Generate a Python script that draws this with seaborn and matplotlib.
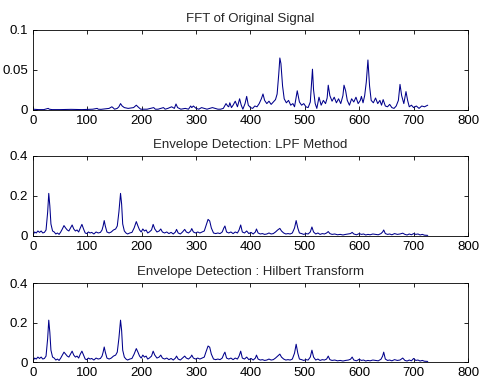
import numpy as np
import pandas as pd
import seaborn as sns
import matplotlib
matplotlib.use("Agg")
import matplotlib.pyplot as plt

# FFT of original signal
fft_x = [0, 10, 20, 28, 30, 35, 50, 70, 90, 110, 118, 120, 125, 140, 145, 147, 150, 155, 158, 161,
         164, 168, 175, 185, 190, 193, 198, 210, 222, 225, 230, 240, 243, 248, 255, 260, 263, 266, 272, 280,
         286, 290, 292, 295, 300, 305, 310, 320, 330, 335, 340, 345, 350, 355, 358, 360, 362, 365, 368, 372,
         376, 380, 383, 386, 390, 393, 396, 400, 404, 408, 412, 416, 420, 423, 426, 430, 434, 438, 442, 446,
         449, 452, 454, 456, 459, 462, 466, 470, 474, 478, 481, 483, 486, 490, 494, 498, 502, 506, 510, 512,
         514, 516, 519, 522, 526, 530, 534, 538, 541, 543, 546, 550, 554, 558, 562, 566, 570, 572, 575, 578,
         582, 586, 590, 594, 598, 602, 604, 607, 610, 613, 616, 619, 622, 626, 630, 634, 638, 641, 644, 648,
         652, 656, 660, 664, 668, 672, 675, 678, 682, 686, 689, 692, 696, 700, 705, 710, 715, 720, 726]
fft_y = [0.001, 0.0005, 0.0005, 0.002, 0.001, 0.0005, 0.0005, 0.0008, 0.0005, 0.001, 0.002, 0.001, 0.0008,
         0.002, 0.004, 0.003, 0.001, 0.002, 0.004, 0.008, 0.005, 0.003, 0.002, 0.003, 0.006, 0.004, 0.001,
         0.001, 0.003, 0.001, 0.001, 0.003, 0.001, 0.002, 0.004, 0.002, 0.0075, 0.003, 0.001, 0.002, 0.001,
         0.005, 0.003, 0.005, 0.002, 0.001, 0.003, 0.001, 0.003, 0.002, 0.001, 0.001, 0.002, 0.008, 0.005,
         0.004, 0.009, 0.003, 0.006, 0.011, 0.004, 0.014, 0.006, 0.001, 0.008, 0.017, 0.006, 0.003, 0.002,
         0.005, 0.004, 0.008, 0.014, 0.02, 0.012, 0.008, 0.011, 0.007, 0.010, 0.013, 0.02, 0.045, 0.065,
         0.058, 0.03, 0.014, 0.009, 0.012, 0.006, 0.008, 0.004, 0.012, 0.024, 0.01, 0.006, 0.008, 0.004,
         0.003, 0.01, 0.03, 0.051, 0.025, 0.008, 0.002, 0.016, 0.006, 0.012, 0.008, 0.015, 0.031, 0.018,
         0.011, 0.016, 0.009, 0.014, 0.008, 0.018, 0.031, 0.024, 0.012, 0.006, 0.014, 0.010, 0.016, 0.008,
         0.012, 0.017, 0.009, 0.018, 0.035, 0.0625, 0.03, 0.012, 0.009, 0.015, 0.008, 0.012, 0.006, 0.013,
         0.005, 0.004, 0.007, 0.003, 0.002, 0.005, 0.012, 0.032, 0.018, 0.008, 0.023, 0.012, 0.004, 0.006,
         0.003, 0.005, 0.002, 0.005, 0.004, 0.006]

# envelope, LPF method
lpf_x = [0, 3, 6, 9, 12, 15, 18, 21, 24, 27, 29, 31, 33, 36, 39, 42, 45, 48, 51, 54,
         57, 60, 63, 66, 69, 72, 75, 78, 81, 84, 87, 90, 93, 96, 99, 102, 105, 108, 112, 116,
         120, 124, 127, 129, 131, 133, 136, 140, 144, 148, 152, 155, 158, 161, 163, 165, 168, 171, 174, 178,
         182, 186, 190, 193, 196, 199, 202, 205, 208, 211, 214, 218, 221, 224, 228, 232, 235, 238, 242, 246,
         250, 254, 258, 262, 264, 267, 271, 275, 279, 282, 286, 290, 292, 295, 299, 303, 307, 311, 315, 318,
         322, 325, 328, 332, 336, 340, 344, 348, 351, 353, 356, 360, 364, 368, 372, 376, 379, 382, 385, 389,
         393, 397, 401, 405, 409, 411, 414, 418, 422, 426, 430, 434, 438, 442, 446, 450, 454, 457, 461, 465,
         469, 473, 477, 481, 484, 487, 490, 494, 498, 502, 506, 510, 513, 516, 520, 524, 528, 532, 536, 540,
         543, 546, 550, 555, 560, 565, 570, 575, 580, 584, 587, 590, 595, 600, 604, 608, 612, 616, 620, 625,
         630, 635, 640, 643, 645, 648, 652, 656, 660, 665, 670, 675, 680, 684, 688, 692, 696, 700, 704, 708,
         712, 716, 720, 726]
lpf_y = [0.005, 0.02, 0.015, 0.025, 0.018, 0.025, 0.015, 0.018, 0.03, 0.12, 0.213, 0.15, 0.06, 0.025, 0.02,
         0.01, 0.015, 0.008, 0.02, 0.035, 0.052, 0.04, 0.03, 0.025, 0.04, 0.055, 0.035, 0.025, 0.03, 0.02,
         0.04, 0.058, 0.035, 0.015, 0.012, 0.02, 0.015, 0.018, 0.01, 0.02, 0.015, 0.018, 0.03, 0.05, 0.077,
         0.05, 0.02, 0.015, 0.02, 0.03, 0.035, 0.05, 0.12, 0.213, 0.16, 0.06, 0.025, 0.015, 0.01, 0.015,
         0.018, 0.04, 0.072, 0.05, 0.03, 0.02, 0.035, 0.025, 0.03, 0.015, 0.02, 0.03, 0.058, 0.035, 0.02,
         0.025, 0.035, 0.02, 0.015, 0.02, 0.012, 0.018, 0.01, 0.02, 0.033, 0.015, 0.01, 0.02, 0.033, 0.02,
         0.015, 0.025, 0.037, 0.02, 0.015, 0.02, 0.015, 0.02, 0.025, 0.05, 0.083, 0.075, 0.04, 0.015, 0.012,
         0.015, 0.012, 0.02, 0.04, 0.05, 0.02, 0.015, 0.02, 0.012, 0.02, 0.015, 0.03, 0.055, 0.02, 0.015,
         0.025, 0.012, 0.018, 0.01, 0.02, 0.035, 0.015, 0.01, 0.012, 0.008, 0.01, 0.015, 0.01, 0.012, 0.02,
         0.03, 0.038, 0.025, 0.015, 0.01, 0.012, 0.01, 0.015, 0.04, 0.077, 0.04, 0.015, 0.012, 0.008, 0.012,
         0.01, 0.02, 0.045, 0.02, 0.01, 0.015, 0.008, 0.012, 0.01, 0.015, 0.022, 0.012, 0.008, 0.01, 0.006,
         0.008, 0.005, 0.008, 0.01, 0.012, 0.018, 0.01, 0.006, 0.012, 0.008, 0.01, 0.005, 0.008, 0.006, 0.01,
         0.008, 0.006, 0.012, 0.02, 0.03, 0.012, 0.008, 0.01, 0.006, 0.012, 0.008, 0.01, 0.014, 0.008, 0.005,
         0.01, 0.006, 0.012, 0.008, 0.01, 0.005, 0.008, 0.004, 0.003]

# envelope, Hilbert transform (almost the same as LPF, a few peaks differ)
hil_x = lpf_x
hil_y = [0.005, 0.02, 0.015, 0.025, 0.018, 0.025, 0.015, 0.018, 0.03, 0.12, 0.212, 0.15, 0.06, 0.025, 0.02,
         0.01, 0.015, 0.008, 0.02, 0.035, 0.05, 0.04, 0.03, 0.025, 0.04, 0.055, 0.035, 0.025, 0.03, 0.02,
         0.04, 0.055, 0.035, 0.015, 0.012, 0.02, 0.015, 0.018, 0.01, 0.02, 0.015, 0.018, 0.03, 0.05, 0.076,
         0.05, 0.02, 0.015, 0.02, 0.03, 0.035, 0.05, 0.12, 0.212, 0.16, 0.06, 0.025, 0.015, 0.01, 0.015,
         0.018, 0.04, 0.068, 0.05, 0.03, 0.02, 0.035, 0.025, 0.03, 0.015, 0.02, 0.03, 0.055, 0.035, 0.02,
         0.025, 0.035, 0.02, 0.015, 0.02, 0.012, 0.018, 0.01, 0.02, 0.03, 0.015, 0.01, 0.02, 0.03, 0.02,
         0.015, 0.025, 0.035, 0.02, 0.015, 0.02, 0.015, 0.02, 0.025, 0.05, 0.081, 0.075, 0.04, 0.015, 0.012,
         0.015, 0.012, 0.02, 0.04, 0.05, 0.02, 0.015, 0.02, 0.012, 0.02, 0.015, 0.03, 0.055, 0.02, 0.015,
         0.025, 0.012, 0.018, 0.01, 0.02, 0.035, 0.015, 0.01, 0.012, 0.008, 0.01, 0.015, 0.01, 0.012, 0.02,
         0.03, 0.04, 0.025, 0.015, 0.01, 0.012, 0.01, 0.015, 0.045, 0.09, 0.045, 0.015, 0.012, 0.008, 0.012,
         0.01, 0.025, 0.06, 0.025, 0.01, 0.015, 0.008, 0.012, 0.01, 0.015, 0.03, 0.012, 0.008, 0.01, 0.006,
         0.008, 0.005, 0.008, 0.01, 0.014, 0.025, 0.01, 0.006, 0.014, 0.008, 0.01, 0.005, 0.008, 0.006, 0.01,
         0.008, 0.006, 0.014, 0.03, 0.05, 0.015, 0.008, 0.01, 0.006, 0.012, 0.008, 0.01, 0.02, 0.008, 0.005,
         0.01, 0.006, 0.018, 0.008, 0.01, 0.005, 0.008, 0.004, 0.003]

titles = ["FFT of Original Signal", "Envelope Detection: LPF Method",
          "Envelope Detection : Hilbert Transform"]
ylims = [0.1, 0.4, 0.4]
yticks = [[0, 0.05, 0.1], [0, 0.2, 0.4], [0, 0.2, 0.4]]
yticklabels = [["0", "0.05", "0.1"], ["0", "0.2", "0.4"], ["0", "0.2", "0.4"]]
xticks = [0, 100, 200, 300, 400, 500, 600, 700, 800]

sns.set_style("ticks")
plt.rcParams['font.family'] = ['Liberation Sans', 'DejaVu Sans']

fig = plt.figure(figsize=(4.83, 3.92), dpi=100)
positions = [[0.0683, 0.7194, 0.9006, 0.2041],
             [0.0683, 0.398, 0.9006, 0.2041],
             [0.0683, 0.0765, 0.9006, 0.2015]]
series = [(fft_x, fft_y), (lpf_x, lpf_y), (hil_x, hil_y)]

for i in range(3):
    ax = fig.add_axes(positions[i])
    df = pd.DataFrame({"x": series[i][0], "y": series[i][1]})
    sns.lineplot(data=df, x="x", y="y", ax=ax, color="#00008B", linewidth=0.75)
    ax.set_xlim(0, 800)
    ax.set_ylim(0, ylims[i])
    ax.set_xticks(xticks)
    ax.set_xticklabels([str(t) for t in xticks])
    ax.set_yticks(yticks[i])
    ax.set_yticklabels(yticklabels[i])
    ax.tick_params(direction="in", top=True, right=True, length=3, width=0.6,
                   labelsize=9.5, pad=3.5, colors="black")
    for s in ax.spines.values():
        s.set_visible(True)
        s.set_linewidth(0.6)
        s.set_color("black")
    ax.set_xlabel("")
    ax.set_ylabel("")
    ax.set_title(titles[i], fontsize=9.5, pad=6)

fig.savefig("out.png", dpi=100)
